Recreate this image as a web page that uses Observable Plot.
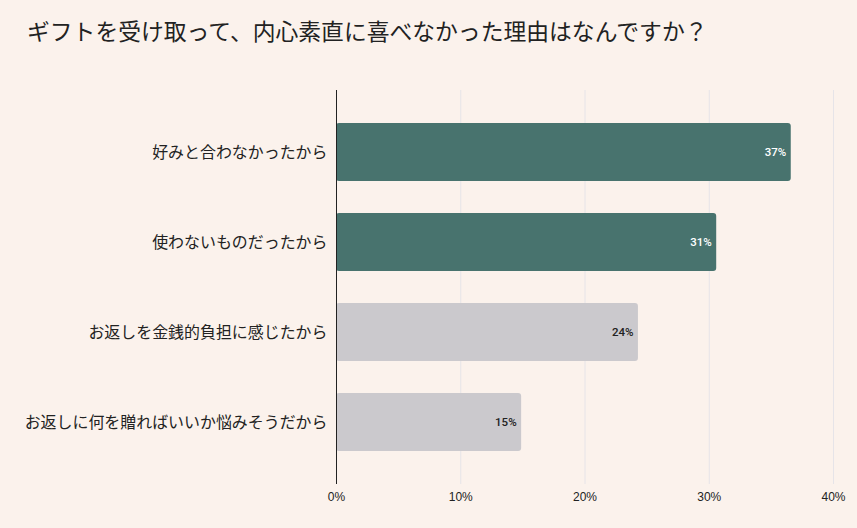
<!DOCTYPE html>
<html>
<head>
<meta charset="utf-8">
<script src="https://cdn.jsdelivr.net/npm/d3@7"></script>
<script src="https://cdn.jsdelivr.net/npm/@observablehq/plot@0.6"></script>
<style>
  html, body { margin: 0; padding: 0; background: #fbf2ec; }
  body { width: 857px; height: 528px; overflow: hidden; font-family: "Noto Sans CJK JP", sans-serif; }
  #title { position: absolute; left: 27px; top: 17px; font-size: 22.8px; color: #222; line-height: 1.2; white-space: nowrap; }
  #chart { position: absolute; left: 0; top: 70px; }
</style>
</head>
<body>
<div id="title">ギフトを受け取って、内心素直に喜べなかった理由はなんですか？</div>
<div id="chart"></div>
<script>
const reasons = [
  "好みと合わなかったから",
  "使わないものだったから",
  "お返しを金銭的負担に感じたから",
  "お返しに何を贈ればいいか悩みそうだから"
];
const shares = [36.6, 30.6, 24.3, 14.9];
const groups = ["top", "top", "other", "other"];
const xTicks = [0, 10, 20, 30, 40];

const data = reasons.map((r, i) => ({reason: r, share: shares[i], group: groups[i]}));
const fillOf = g => g === "top" ? "#48736e" : "#cbc9cd";
const textOf = g => g === "top" ? "#ffffff" : "#222222";

const chart = Plot.plot({
  width: 857,
  height: 458,
  marginLeft: 336,
  marginRight: 24,
  marginTop: 20,
  marginBottom: 44,
  style: {background: "transparent", fontFamily: "'Noto Sans CJK JP', sans-serif", overflow: "visible"},
  x: {domain: [0, 40]},
  y: {domain: reasons, paddingInner: 0.36, paddingOuter: 0.35},
  marks: [
    Plot.ruleX(xTicks.filter(d => d > 0), {stroke: "#e6e4e8", strokeWidth: 1}),
    Plot.barX(data, {x: "share", y: "reason", fill: d => fillOf(d.group), rx: 3}),
    Plot.ruleX([0], {stroke: "#222", strokeWidth: 1}),
    Plot.text(data, {
      x: "share", y: "reason",
      text: d => Math.round(d.share) + "%",
      textAnchor: "end", dx: -5,
      fill: d => textOf(d.group),
      fontSize: 11.5, fontWeight: 500,
      fontFamily: "Roboto, sans-serif"
    }),
    Plot.axisY({tickSize: 0, tickPadding: 9, fontSize: 15.95, label: null, fill: "#222"}),
    Plot.axisX({ticks: xTicks, tickFormat: d => d + "%", tickSize: 0, tickPadding: 8, fontSize: 12, label: null, fill: "#222", fontFamily: "'Liberation Sans', Arial, sans-serif"})
  ]
});
document.getElementById("chart").appendChild(chart);
</script>
</body>
</html>
